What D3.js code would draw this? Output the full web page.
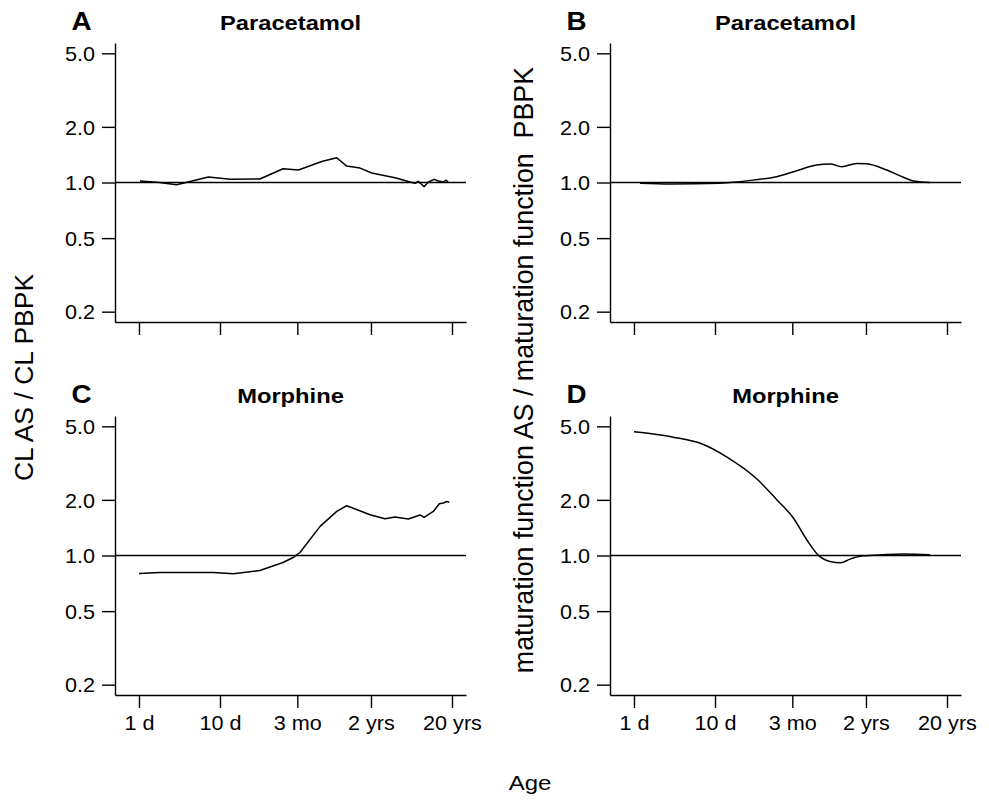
<!DOCTYPE html>
<html>
<head>
<meta charset="utf-8">
<script src="https://cdn.jsdelivr.net/npm/d3@7"></script>
<style>
    body { margin: 0; background: #fff; }
    text { font-family: "Liberation Sans", Arial, sans-serif; fill: #000; }
</style>
</head>
<body>
<svg id="chart" width="989" height="800"></svg>
<script>
// age in days, ratio values
var paraAgeA = [1.03, 1.8, 2.9, 3.7, 7.2, 13.3, 31, 60, 93, 180, 276, 366, 535, 746, 1445, 2218, 2556, 2805, 3300, 3733, 4385, 4958, 5710, 6170, 6590]
var paraClA = [1.019, 1.0, 0.973, 0.998, 1.07, 1.04, 1.044, 1.187, 1.168, 1.30, 1.361, 1.227, 1.197, 1.125, 1.061, 1.006, 0.99, 1.015, 0.949, 1.006, 1.04, 1.019, 1.006, 1.03, 1.0]

var paraAgeB = [1.19, 2.8, 11.5, 15.3, 29.7, 57.8, 102, 180, 263, 367, 562, 747, 1318, 2114, 2946, 4510]
var paraMatB = [0.99, 0.98, 0.99, 1.0, 1.03, 1.075, 1.158, 1.243, 1.259, 1.217, 1.269, 1.263, 1.168, 1.067, 1.015, 1.0]

var morAgeC = [1.0, 1.8, 8.3, 14.6, 31, 60, 80, 97, 172, 276, 366, 711, 1089, 1445, 2113, 2946, 3300, 4297, 5100, 5710, 6290, 6770]
var morClC = [0.798, 0.809, 0.809, 0.796, 0.829, 0.916, 0.975, 1.038, 1.437, 1.732, 1.86, 1.663, 1.58, 1.615, 1.576, 1.657, 1.61, 1.732, 1.907, 1.925, 1.96, 1.94]

var morAgeD = [1, 3.06, 7.2, 13.9, 32.7, 57.8, 92.7, 135.5, 188, 263, 356, 464, 678, 1197, 2113, 4510]
var morMatD = [4.67, 4.37, 3.99, 3.42, 2.60, 2.005, 1.596, 1.217, 1.005, 0.928, 0.913, 0.956, 0.996, 1.01, 1.018, 1.01]

var ageTicks = [1, 10, 90, 730, 7300]
var ageLabels = ["1 d", "10 d", "3 mo", "2 yrs", "20 yrs"]
var ratioTicks = [0.2, 0.5, 1, 2, 5]

var panels = [
    {letter: "A", title: "Paracetamol", age: paraAgeA, val: paraClA, smooth: false, left: 115, top: 43, xAxis: false},
    {letter: "B", title: "Paracetamol", age: paraAgeB, val: paraMatB, smooth: true, left: 610, top: 43, xAxis: false},
    {letter: "C", title: "Morphine", age: morAgeC, val: morClC, smooth: false, left: 115, top: 416, xAxis: true},
    {letter: "D", title: "Morphine", age: morAgeD, val: morMatD, smooth: true, left: 610, top: 416, xAxis: true}
]

var pw = 351, ph = 279

var svg = d3.select("#chart")

var x = d3.scaleLog().domain([0.506, 10870]).range([0, pw])
// ylim 0.2..5 with 4% padding on the log scale
var pad = Math.pow(25, 0.04)
var y = d3.scaleLog().domain([0.2 / pad, 5 * pad]).range([ph, 0])

panels.forEach(p => {
    var g = svg.append("g").attr("transform", "translate(" + p.left + "," + p.top + ")")

    var yAxis = g.append("g")
        .call(d3.axisLeft(y).tickValues(ratioTicks).tickFormat(d3.format(".1f")).tickSize(13).tickSizeOuter(0))
    yAxis.selectAll("text")
        .attr("font-size", 20)
        .attr("x", -20 / 1.08)
        .attr("dy", "0.36em")
        .attr("transform", "scale(1.08,1)")

    var xAxis = g.append("g")
        .attr("transform", "translate(0," + ph + ")")
        .call(d3.axisBottom(x).tickValues(ageTicks).tickFormat((d, i) => ageLabels[i]).tickSize(13).tickSizeOuter(0))
    xAxis.selectAll("text")
        .attr("font-size", 20)
        .attr("y", 35)
        .attr("dy", 0)
        .attr("transform", "scale(1.08,1)")
        .style("display", p.xAxis ? null : "none")

    g.selectAll(".domain, .tick line").attr("stroke", "#000").attr("stroke-width", 1.4)
    g.selectAll(".tick text").attr("fill", "#000").attr("font-family", "Liberation Sans, Arial, sans-serif")

    // reference line at ratio 1
    g.append("line")
        .attr("x1", 0).attr("x2", pw)
        .attr("y1", y(1)).attr("y2", y(1))
        .attr("stroke", "#000").attr("stroke-width", 1.4)

    var pts = p.age.map((a, i) => ({age: a, v: p.val[i]}))
    var line = d3.line()
        .x(d => x(d.age))
        .y(d => y(d.v))
        .curve(p.smooth ? d3.curveMonotoneX : d3.curveLinear)

    g.append("path")
        .datum(pts)
        .attr("d", line)
        .attr("fill", "none")
        .attr("stroke", "#000")
        .attr("stroke-width", 1.5)
        .attr("stroke-linejoin", "round")

    g.append("text")
        .attr("transform", "translate(" + (pw / 2) + "," + (-13.5) + ") scale(1.13,1)")
        .attr("text-anchor", "middle")
        .attr("font-size", 21)
        .attr("font-weight", "bold")
        .text(p.title)

    g.append("text")
        .attr("transform", "translate(" + (-33.5) + "," + (-13.5) + ") scale(1.07,1)")
        .attr("text-anchor", "middle")
        .attr("font-size", 26)
        .attr("font-weight", "bold")
        .text(p.letter)
})

svg.append("text")
    .attr("transform", "translate(33,377.5) rotate(-90)")
    .attr("text-anchor", "middle")
    .attr("font-size", 26.5)
    .text("CL AS / CL PBPK")

svg.append("text")
    .attr("transform", "translate(533,370) rotate(-90)")
    .attr("text-anchor", "middle")
    .attr("font-size", 26.8)
    .attr("xml:space", "preserve")
    .style("white-space", "pre")
    .text("maturation function AS / maturation function  PBPK")

svg.append("text")
    .attr("transform", "translate(530,790) scale(1.2,1)")
    .attr("text-anchor", "middle")
    .attr("font-size", 20)
    .text("Age")
</script>
</body>
</html>
